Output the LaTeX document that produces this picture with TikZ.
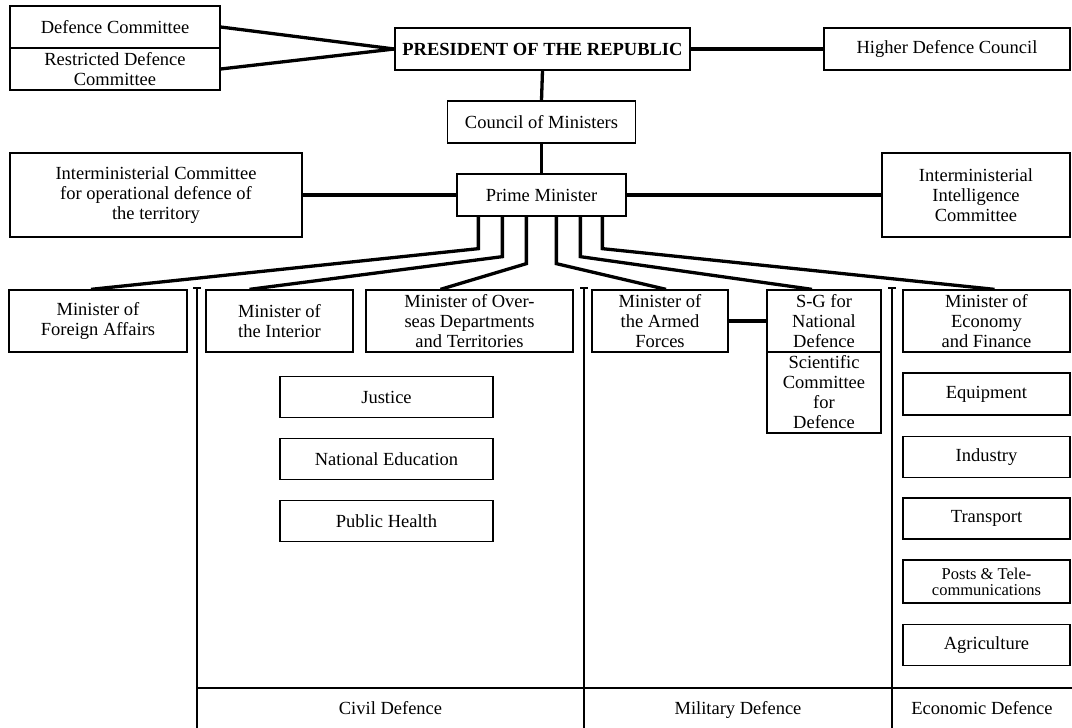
\documentclass[tikz,border=0pt]{standalone}
\usepackage{fontspec}
\setmainfont{Liberation Serif}
\usetikzlibrary{calc}
\newcommand\fsz{\fontsize{18.5}{20}\selectfont}
\begin{document}
\begin{tikzpicture}[x=1pt,y=-1pt,
  bx/.style={draw,line width=1.3pt,align=center,inner sep=0pt,font=\fsz},
  conn/.style={line width=3.3pt},
  sepline/.style={line width=1.4pt},
  lbl/.style={font=\fsz,inner sep=0pt,text height=13pt,text depth=4pt}]
\useasboundingbox (0,0) rectangle (1072,728);
% top
\node[bx,minimum width=210,minimum height=42] (dc) at (115,27) {Defence Committee};
\node[bx,minimum width=210,minimum height=42] (rdc) at (115,69) {Restricted Defence\\Committee};
\node[bx,minimum width=295,minimum height=42,font=\fsz\bfseries] (pres) at (542.5,49) {PRESIDENT OF THE REPUBLIC};
\node[bx,minimum width=246,minimum height=42] (hdc) at (947,49) {Higher Defence Council};
\node[bx,minimum width=188,minimum height=42] (com) at (541.5,122) {Council of Ministers};
\node[bx,minimum width=169,minimum height=42] (pm) at (541.5,195) {Prime Minister};
\node[bx,minimum width=292,minimum height=84] (imc) at (156,195) {Interministerial Committee\\for operational defence of\\the territory};
\node[bx,minimum width=188,minimum height=84] (iic) at (976,195) {Interministerial\\Intelligence\\Committee};
% ministers
\node[bx,minimum width=178,minimum height=62] (fa) at (98,321) {Minister of\\Foreign Affairs};
\node[bx,minimum width=147,minimum height=62] (int) at (279.5,321) {Minister of\\the Interior};
\node[bx,minimum width=207,minimum height=62] (ovs) at (469.5,321) {Minister of Over-\\seas Departments\\and Territories};
\node[bx,minimum width=136,minimum height=62] (af) at (660,321) {Minister of\\the Armed\\Forces};
\node[bx,minimum width=114,minimum height=62] (sg) at (824,321) {S-G for\\National\\Defence};
\node[bx,minimum width=114,minimum height=81] (sci) at (824,392.5) {Scientific\\Committee\\for\\Defence};
\node[bx,minimum width=167,minimum height=62] (eco) at (986.5,321) {Minister of\\Economy\\and Finance};
% civil
\node[bx,minimum width=213,minimum height=41] (jus) at (386.5,397) {Justice};
\node[bx,minimum width=213,minimum height=41] (ned) at (386.5,459) {National Education};
\node[bx,minimum width=213,minimum height=41] (ph) at (386.5,521) {Public Health};
% economic
\node[bx,minimum width=167,minimum height=42] (equ) at (986.5,394) {Equipment};
\node[bx,minimum width=167,minimum height=41] (ind) at (986.5,457) {Industry};
\node[bx,minimum width=167,minimum height=41] (tra) at (986.5,518.5) {Transport};
\node[bx,minimum width=167,minimum height=43,font=\fontsize{16.5}{16}\selectfont] (pos) at (986.5,581.5) {Posts \& Tele-\\communications};
\node[bx,minimum width=167,minimum height=41] (agr) at (986.5,645) {Agriculture};
% connectors
\draw[conn] (dc.east) -- (pres.west);
\draw[conn] (rdc.east) -- (pres.west);
\draw[conn] (pres.east) -- (hdc.west);
\draw[conn] (pres.south) -- (com.north);
\draw[conn] (com.south) -- (pm.north);
\draw[conn] (pm.west) -- (imc.east);
\draw[conn] (pm.east) -- (iic.west);
\draw[conn] ($(pm.south west)+(22,0)$) -- ++(0,32) -- ($(fa.north)+(-7,0)$);
\draw[conn] ($(pm.south west)+(46,0)$) -- ++(0,40) -- ($(int.north)+(-30,0)$);
\draw[conn] ($(pm.south west)+(70,0)$) -- ++(0,47) -- ($(ovs.north)+(-29,0)$);
\draw[conn] ($(pm.south west)+(100,0)$) -- ++(0,47) -- ($(af.north)+(6,0)$);
\draw[conn] ($(pm.south west)+(124,0)$) -- ++(0,40) -- ($(sg.north)+(-12,0)$);
\draw[conn] ($(pm.south west)+(146,0)$) -- ++(0,32) -- ($(eco.north)+(8,0)$);
\draw[conn] (af.east) -- (sg.west);
% column separators
\foreach \sx in {197,584,892} {
  \draw[sepline] (\sx,288) -- (\sx,728);
  \draw[sepline] (\sx-4,288) -- (\sx+4,288);
}
\draw[sepline] (197,688) -- (1072,688);
\node[lbl] (civ) at (390.5,710) {Civil Defence};
\node[lbl] (mil) at (738,710) {Military Defence};
\node[lbl] (ecd) at (982,710) {Economic Defence};
\end{tikzpicture}
\end{document}
